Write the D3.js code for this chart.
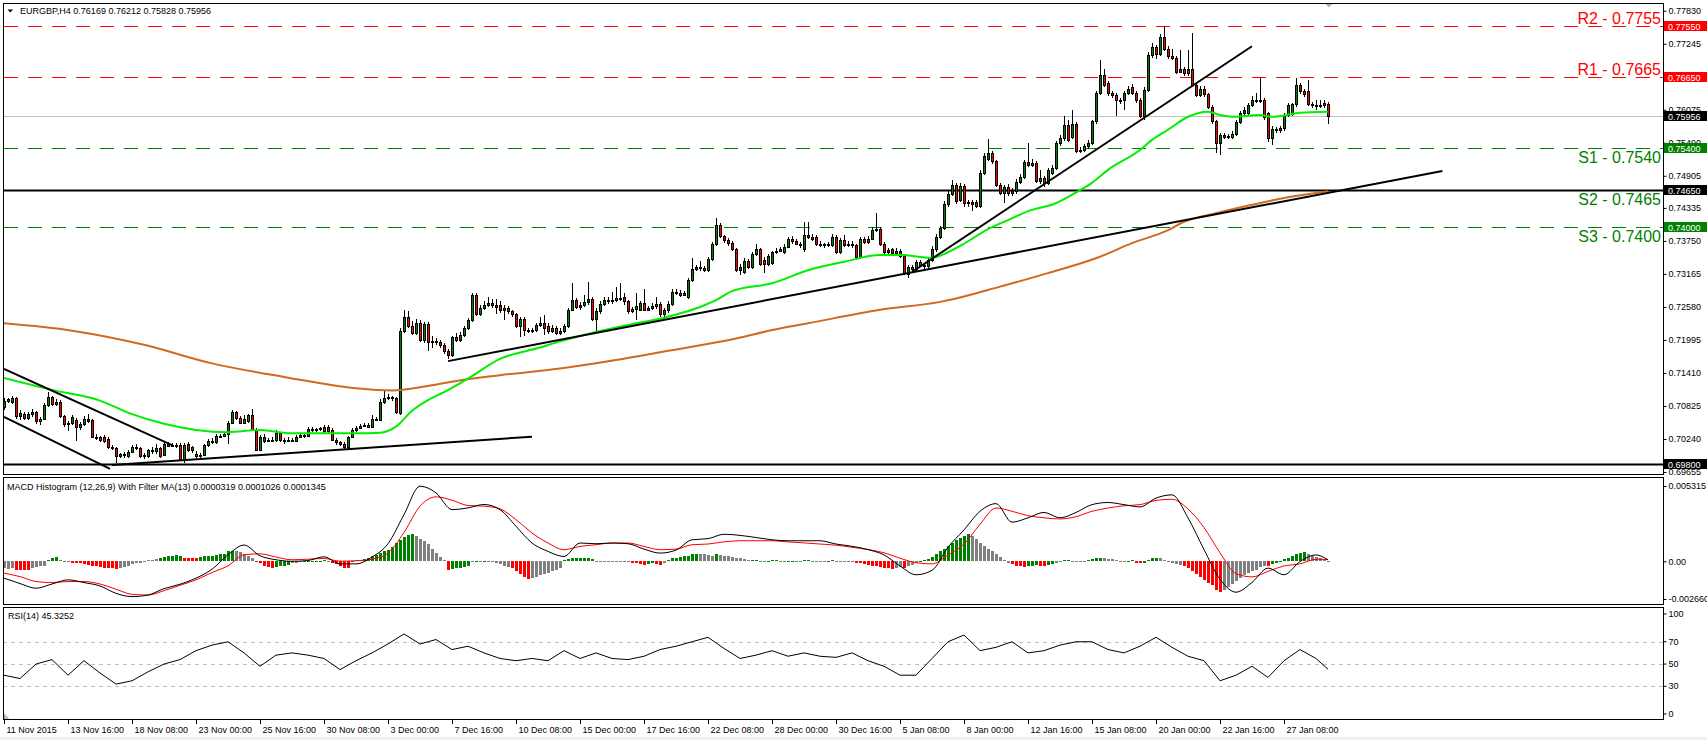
<!DOCTYPE html>
<html>
<head>
<meta charset="utf-8">
<script src="https://cdn.jsdelivr.net/npm/d3@7/dist/d3.min.js"></script>
<style>
  body { margin: 0; background: #fff; }
  svg { display: block; }
</style>
</head>
<body>
<div id="chart"></div>
<script>
// EURGBP H4, one entry per bar, 11 Nov 2015 00:00 onwards
const opens = [
  0.7080,0.7092,0.7090,0.7097,0.7065,0.7068,0.7061,0.7068,0.7072,0.7055,
  0.7060,0.7084,0.7098,0.7086,0.7090,0.7064,0.7050,0.7052,0.7058,0.7045,
  0.7050,0.7060,0.7057,0.7028,0.7027,0.7028,0.7024,0.7010,0.7008,0.6993,
  0.6997,0.6994,0.7001,0.7010,0.7008,0.6993,0.6994,0.7004,0.7002,0.7008,
  0.6996,0.7015,0.7012,0.7014,0.7014,0.6988,0.7015,0.7004,0.6998,0.6994,
  0.6996,0.7013,0.7021,0.7019,0.7030,0.7029,0.7032,0.7052,0.7071,0.7062,
  0.7053,0.7056,0.7066,0.7040,0.7005,0.7020,0.7023,0.7022,0.7022,0.7034,
  0.7022,0.7020,0.7023,0.7021,0.7028,0.7031,0.7029,0.7041,0.7040,0.7041,
  0.7045,0.7038,0.7040,0.7023,0.7018,0.7016,0.7010,0.7027,0.7040,0.7044,
  0.7047,0.7049,0.7046,0.7060,0.7058,0.7090,0.7097,0.7099,0.7096,0.7070,
  0.7215,0.7240,0.7224,0.7212,0.7230,0.7200,0.7228,0.7196,0.7197,0.7196,
  0.7191,0.7180,0.7172,0.7204,0.7200,0.7208,0.7220,0.7235,0.7280,0.7246,
  0.7256,0.7262,0.7265,0.7262,0.7262,0.7252,0.7256,0.7250,0.7245,0.7224,
  0.7236,0.7218,0.7215,0.7217,0.7226,0.7230,0.7225,0.7215,0.7221,0.7212,
  0.7216,0.7225,0.7253,0.7271,0.7258,0.7262,0.7266,0.7272,0.7237,0.7250,
  0.7264,0.7270,0.7268,0.7270,0.7274,0.7276,0.7268,0.7250,0.7254,0.7252,
  0.7265,0.7253,0.7256,0.7260,0.7263,0.7246,0.7252,0.7264,0.7285,0.7283,
  0.7280,0.7275,0.7306,0.7326,0.7329,0.7327,0.7324,0.7343,0.7370,0.7404,
  0.7383,0.7377,0.7371,0.7360,0.7323,0.7320,0.7340,0.7328,0.7352,0.7360,
  0.7342,0.7334,0.7336,0.7355,0.7358,0.7355,0.7365,0.7379,0.7374,0.7370,
  0.7360,0.7385,0.7382,0.7382,0.7370,0.7369,0.7367,0.7368,0.7382,0.7356,
  0.7377,0.7368,0.7370,0.7367,0.7347,0.7378,0.7373,0.7379,0.7394,0.7396,
  0.7370,0.7355,0.7360,0.7354,0.7358,0.7348,0.7316,0.7328,0.7326,0.7338,
  0.7333,0.7330,0.7342,0.7360,0.7382,0.7398,0.7440,0.7459,0.7474,0.7448,
  0.7473,0.7442,0.7444,0.7444,0.7437,0.7496,0.7520,0.7531,0.7516,0.7474,
  0.7460,0.7471,0.7460,0.7463,0.7480,0.7489,0.7514,0.7510,0.7513,0.7481,
  0.7487,0.7477,0.7496,0.7504,0.7548,0.7557,0.7580,0.7560,0.7583,0.7535,
  0.7537,0.7543,0.7549,0.7587,0.7637,0.7669,0.7654,0.7637,0.7634,0.7625,
  0.7624,0.7637,0.7648,0.7637,0.7625,0.7596,0.7643,0.7705,0.7719,0.7707,
  0.7737,0.7716,0.7702,0.7700,0.7675,0.7680,0.7672,0.7679,0.7651,0.7634,
  0.7645,0.7635,0.7612,0.7587,0.7548,0.7563,0.7559,0.7559,0.7565,0.7586,
  0.7601,0.7601,0.7616,0.7625,0.7624,0.7625,0.7601,0.7557,0.7574,0.7571,
  0.7575,0.7598,0.7600,0.7617,0.7651,0.7640,0.7640,0.7618,0.7615,0.7616,
  0.7619,0.76169
]
const highs = [
  0.7096,0.7097,0.7100,0.7099,0.7076,0.7072,0.7072,0.7078,0.7074,0.7063,
  0.7087,0.7108,0.7101,0.7094,0.7093,0.7066,0.7056,0.7066,0.7062,0.7054,
  0.7064,0.7068,0.7059,0.7032,0.7030,0.7031,0.7027,0.7014,0.7010,0.7000,
  0.7001,0.7004,0.7013,0.7016,0.7010,0.6999,0.7006,0.7010,0.7015,0.7010,
  0.7019,0.7018,0.7017,0.7017,0.7017,0.7017,0.7018,0.7012,0.7002,0.6999,
  0.7016,0.7024,0.7026,0.7033,0.7033,0.7036,0.7055,0.7076,0.7074,0.7065,
  0.7066,0.7068,0.7078,0.7043,0.7031,0.7032,0.7026,0.7027,0.7040,0.7037,
  0.7026,0.7027,0.7026,0.7031,0.7035,0.7034,0.7046,0.7045,0.7044,0.7046,
  0.7048,0.7049,0.7043,0.7025,0.7020,0.7018,0.7029,0.7043,0.7047,0.7051,
  0.7052,0.7052,0.7066,0.7063,0.7094,0.7110,0.7103,0.7101,0.7099,0.7220,
  0.7253,0.7250,0.7233,0.7236,0.7234,0.7232,0.7231,0.7206,0.7203,0.7200,
  0.7194,0.7183,0.7207,0.7212,0.7214,0.7224,0.7239,0.7283,0.7283,0.7262,
  0.7268,0.7275,0.7272,0.7272,0.7268,0.7262,0.7260,0.7253,0.7248,0.7240,
  0.7240,0.7221,0.7220,0.7230,0.7240,0.7243,0.7230,0.7226,0.7224,0.7220,
  0.7228,0.7257,0.7300,0.7273,0.7267,0.7280,0.7302,0.7275,0.7256,0.7268,
  0.7275,0.7276,0.7285,0.7293,0.7300,0.7282,0.7271,0.7258,0.7282,0.7268,
  0.7290,0.7260,0.7265,0.7276,0.7266,0.7256,0.7268,0.7289,0.7290,0.7288,
  0.7287,0.7310,0.7345,0.7332,0.7340,0.7331,0.7347,0.7373,0.7415,0.7407,
  0.7386,0.7380,0.7374,0.7363,0.7334,0.7344,0.7343,0.7356,0.7370,0.7363,
  0.7346,0.7352,0.7358,0.7362,0.7364,0.7370,0.7382,0.7383,0.7378,0.7373,
  0.7408,0.7408,0.7387,0.7386,0.7374,0.7372,0.7373,0.7387,0.7386,0.7380,
  0.7386,0.7375,0.7374,0.7370,0.7382,0.7382,0.7383,0.7399,0.7424,0.7400,
  0.7373,0.7363,0.7363,0.7362,0.7361,0.7351,0.7332,0.7332,0.7342,0.7342,
  0.7336,0.7346,0.7366,0.7388,0.7402,0.7445,0.7466,0.7483,0.7477,0.7478,
  0.7476,0.7448,0.7448,0.7448,0.7500,0.7530,0.7555,0.7534,0.7519,0.7477,
  0.7474,0.7475,0.7468,0.7484,0.7494,0.7518,0.7548,0.7520,0.7516,0.7500,
  0.7490,0.7505,0.7509,0.7552,0.7562,0.7596,0.7590,0.7607,0.7586,0.7542,
  0.7547,0.7553,0.7590,0.7640,0.7696,0.7680,0.7658,0.7640,0.7637,0.7629,
  0.7640,0.7650,0.7653,0.7640,0.7628,0.7647,0.7710,0.7725,0.7722,0.7742,
  0.7755,0.7720,0.7716,0.7703,0.7713,0.7684,0.7713,0.7743,0.7654,0.7650,
  0.7649,0.7638,0.7615,0.7590,0.7567,0.7567,0.7565,0.7569,0.7589,0.7606,
  0.7613,0.7620,0.7632,0.7637,0.7663,0.7628,0.7604,0.7578,0.7577,0.7579,
  0.7602,0.7620,0.7620,0.7663,0.7655,0.7644,0.7660,0.7622,0.7625,0.7625,
  0.7624,0.76212
]
const lows = [
  0.7075,0.7088,0.7086,0.7060,0.7058,0.7058,0.7058,0.7063,0.7050,0.7048,
  0.7058,0.7080,0.7083,0.7083,0.7062,0.7046,0.7039,0.7048,0.7020,0.7040,
  0.7047,0.7052,0.7025,0.7022,0.7018,0.7017,0.7007,0.7004,0.6981,0.6990,
  0.6991,0.6991,0.6999,0.7005,0.6990,0.6989,0.6991,0.6998,0.6998,0.6990,
  0.6993,0.7009,0.7011,0.7008,0.6985,0.6982,0.7001,0.7000,0.6991,0.6990,
  0.6993,0.7010,0.7016,0.7016,0.7026,0.7027,0.7015,0.7050,0.7058,0.7050,
  0.7050,0.7053,0.7038,0.7002,0.7002,0.7017,0.7018,0.7018,0.7019,0.7019,
  0.7016,0.7018,0.7018,0.7019,0.7026,0.7025,0.7027,0.7037,0.7037,0.7038,
  0.7035,0.7035,0.7020,0.7014,0.7012,0.7007,0.7006,0.7025,0.7037,0.7041,
  0.7045,0.7043,0.7044,0.7055,0.7055,0.7086,0.7093,0.7092,0.7068,0.7066,
  0.7212,0.7220,0.7208,0.7209,0.7196,0.7194,0.7180,0.7185,0.7190,0.7186,
  0.7175,0.7166,0.7169,0.7196,0.7196,0.7205,0.7217,0.7232,0.7242,0.7242,
  0.7252,0.7258,0.7256,0.7245,0.7248,0.7235,0.7245,0.7240,0.7220,0.7205,
  0.7207,0.7212,0.7212,0.7214,0.7222,0.7208,0.7210,0.7212,0.7208,0.7208,
  0.7212,0.7221,0.7250,0.7254,0.7253,0.7258,0.7262,0.7233,0.7213,0.7246,
  0.7260,0.7263,0.7264,0.7266,0.7268,0.7262,0.7246,0.7248,0.7234,0.7250,
  0.7250,0.7250,0.7252,0.7255,0.7240,0.7234,0.7248,0.7260,0.7279,0.7275,
  0.7277,0.7272,0.7302,0.7322,0.7322,0.7320,0.7320,0.7340,0.7366,0.7380,
  0.7372,0.7366,0.7357,0.7320,0.7315,0.7316,0.7325,0.7325,0.7348,0.7330,
  0.7318,0.7330,0.7333,0.7352,0.7355,0.7352,0.7362,0.7370,0.7367,0.7363,
  0.7355,0.7378,0.7374,0.7366,0.7364,0.7363,0.7364,0.7364,0.7352,0.7352,
  0.7364,0.7364,0.7362,0.7342,0.7343,0.7370,0.7370,0.7376,0.7390,0.7366,
  0.7350,0.7352,0.7350,0.7350,0.7344,0.7314,0.7310,0.7322,0.7322,0.7328,
  0.7324,0.7326,0.7338,0.7356,0.7378,0.7395,0.7436,0.7455,0.7441,0.7444,
  0.7436,0.7436,0.7428,0.7433,0.7433,0.7492,0.7516,0.7512,0.7470,0.7456,
  0.7442,0.7455,0.7455,0.7458,0.7476,0.7485,0.7506,0.7506,0.7477,0.7476,
  0.7470,0.7474,0.7492,0.7500,0.7544,0.7552,0.7550,0.7556,0.7530,0.7530,
  0.7532,0.7538,0.7545,0.7583,0.7633,0.7647,0.7632,0.7629,0.7596,0.7618,
  0.7607,0.7633,0.7633,0.7620,0.7592,0.7590,0.7639,0.7700,0.7698,0.7703,
  0.7712,0.7698,0.7696,0.7670,0.7672,0.7668,0.7668,0.7647,0.7630,0.7630,
  0.7630,0.7608,0.7583,0.7530,0.7527,0.7555,0.7555,0.7555,0.7561,0.7583,
  0.7597,0.7597,0.7612,0.7620,0.7620,0.7590,0.7550,0.7545,0.7567,0.7566,
  0.7570,0.7594,0.7596,0.7612,0.7636,0.7630,0.7614,0.7610,0.7607,0.7610,
  0.7610,0.75828
]
const closes = [
  0.7092,0.7094,0.7097,0.7065,0.7070,0.7061,0.7068,0.7072,0.7055,0.7060,
  0.7084,0.7098,0.7086,0.7090,0.7064,0.7050,0.7052,0.7063,0.7045,0.7050,
  0.7060,0.7055,0.7028,0.7027,0.7022,0.7020,0.7010,0.7008,0.6993,0.6997,
  0.6995,0.7001,0.7010,0.7008,0.6993,0.6996,0.7004,0.7002,0.7008,0.6994,
  0.7015,0.7012,0.7014,0.7011,0.6988,0.7014,0.7004,0.7009,0.6994,0.6996,
  0.7013,0.7021,0.7019,0.7030,0.7029,0.7032,0.7052,0.7071,0.7062,0.7053,
  0.7060,0.7066,0.7040,0.7005,0.7028,0.7028,0.7022,0.7023,0.7034,0.7022,
  0.7020,0.7023,0.7021,0.7028,0.7031,0.7029,0.7041,0.7040,0.7041,0.7043,
  0.7038,0.7046,0.7023,0.7018,0.7015,0.7010,0.7027,0.7040,0.7044,0.7047,
  0.7049,0.7046,0.7060,0.7058,0.7090,0.7097,0.7099,0.7096,0.7071,0.7215,
  0.7240,0.7224,0.7212,0.7230,0.7200,0.7228,0.7196,0.7197,0.7196,0.7191,
  0.7180,0.7172,0.7204,0.7200,0.7208,0.7220,0.7235,0.7280,0.7246,0.7256,
  0.7262,0.7265,0.7262,0.7258,0.7252,0.7256,0.7250,0.7245,0.7224,0.7236,
  0.7218,0.7215,0.7217,0.7226,0.7229,0.7221,0.7215,0.7221,0.7212,0.7216,
  0.7225,0.7253,0.7271,0.7258,0.7262,0.7266,0.7272,0.7237,0.7250,0.7264,
  0.7270,0.7268,0.7270,0.7274,0.7272,0.7268,0.7250,0.7254,0.7259,0.7265,
  0.7253,0.7256,0.7260,0.7263,0.7246,0.7252,0.7264,0.7285,0.7283,0.7280,
  0.7282,0.7306,0.7326,0.7329,0.7327,0.7324,0.7343,0.7370,0.7404,0.7383,
  0.7377,0.7371,0.7360,0.7323,0.7328,0.7340,0.7328,0.7352,0.7360,0.7334,
  0.7334,0.7348,0.7355,0.7358,0.7360,0.7365,0.7379,0.7374,0.7370,0.7367,
  0.7385,0.7382,0.7379,0.7370,0.7369,0.7367,0.7369,0.7382,0.7356,0.7377,
  0.7368,0.7370,0.7367,0.7347,0.7378,0.7373,0.7379,0.7394,0.7396,0.7370,
  0.7355,0.7359,0.7354,0.7358,0.7348,0.7318,0.7328,0.7326,0.7338,0.7333,
  0.7330,0.7342,0.7360,0.7382,0.7398,0.7440,0.7459,0.7474,0.7445,0.7473,
  0.7442,0.7444,0.7440,0.7437,0.7496,0.7526,0.7531,0.7516,0.7474,0.7460,
  0.7471,0.7460,0.7463,0.7480,0.7489,0.7514,0.7510,0.7513,0.7481,0.7487,
  0.7477,0.7501,0.7504,0.7548,0.7557,0.7580,0.7554,0.7583,0.7535,0.7537,
  0.7543,0.7549,0.7587,0.7637,0.7669,0.7651,0.7637,0.7634,0.7625,0.7624,
  0.7637,0.7645,0.7637,0.7625,0.7596,0.7643,0.7705,0.7719,0.7707,0.7737,
  0.7716,0.7702,0.7700,0.7675,0.7680,0.7672,0.7679,0.7651,0.7634,0.7645,
  0.7635,0.7612,0.7587,0.7548,0.7563,0.7559,0.7561,0.7565,0.7586,0.7601,
  0.7607,0.7616,0.7625,0.7624,0.7625,0.7595,0.7557,0.7574,0.7571,0.7575,
  0.7598,0.7616,0.7617,0.7651,0.7640,0.7636,0.7618,0.7615,0.7616,0.7615,
  0.7615,0.75956
]

// moving averages at these bars
const fastMaBars = [0,8,12,24,32,40,48,56,64,72,80,88,94,98,102,106,110,116,124,134,139,147,156,165,174,178,182,192,201,210,219,224,232,236,240,246,251,257,262,269,272,276,284,287,291,296,301,304,307,314,317,324,331]
const fastMa = [0.7132,0.7118,0.7111,0.7092,0.7068,0.7051,0.7040,0.7036,0.7040,0.7034,0.7034,0.7034,0.7035,0.7046,0.7074,0.7093,0.7107,0.7131,0.7166,0.7186,0.7197,0.7212,0.7226,0.7239,0.7258,0.7270,0.7286,0.7300,0.7323,0.7338,0.7350,0.7350,0.7345,0.7355,0.7370,0.7396,0.7412,0.7430,0.7439,0.7465,0.7478,0.7501,0.7536,0.7554,0.7572,0.7595,0.7604,0.7598,0.7595,0.7598,0.7595,0.7602,0.7604]
const slowMaBars = [0,17,35,52,70,88,97,106,115,124,139,153,165,183,192,201,219,234,238,249,261,274,282,291,295,303,312,320,331]
const slowMa = [0.7229,0.7216,0.7191,0.7158,0.7134,0.7114,0.7110,0.7118,0.7129,0.7137,0.7149,0.7164,0.7179,0.7202,0.7217,0.7229,0.7253,0.7267,0.7273,0.7294,0.7318,0.7347,0.7371,0.7394,0.7409,0.7424,0.7439,0.7451,0.7463]

// drawn objects: [bar, price, bar, price]
const trendLines = [
  [0, 0.7148, 42, 0.7013],
  [0, 0.7063, 26.5, 0.6971],
  [27, 0.6978, 132, 0.7028],
  [111, 0.7162, 359.6, 0.7499],
  [227, 0.7320, 312, 0.7720]
]
const levelValues = [0.7755, 0.7665, 0.7540, 0.7465, 0.7400, 0.6980]
const levelKinds = ['res', 'res', 'sup', 'solid', 'sup', 'solid']
const levelLabels = ['R2 - 0.7755', 'R1 - 0.7665', 'S1 - 0.7540', 'S2 - 0.7465', 'S3 - 0.7400', '']
const lastPrice = 0.75956
const tagValues = [0.7755, 0.7665, 0.75956, 0.7540, 0.7465, 0.7400, 0.6980]
const tagKinds = ['res', 'res', 'last', 'sup', 'solid', 'sup', 'solid']
const priceTicks = [0.7783, 0.77245, 0.7666, 0.76075, 0.7549, 0.74905, 0.74335, 0.7375, 0.73165, 0.7258, 0.71995, 0.7141, 0.70825, 0.7024, 0.69655]

// MACD histogram per bar (units of 0.0001) and its colour state
const histE4 = [
  -5,-5.4,-5,-6,-6,-6.2,-6,-4.5,-4,-3.5,
  -3,1,2,3,1,0.5,0.3,-1,-1.5,-1,
  -2,-2.5,-3,-3.5,-4,-4.5,-5,-5,-5.2,-5,
  -4,-3,-2,-1.5,-1,0.5,1,1,1.5,2.5,
  3,3.5,4,4.5,4,2.5,2,2.5,2,3,
  3.5,4,4,4.5,5,5.5,7,7.5,7.2,6.5,
  5.5,4,2.5,-0.5,-1.5,-3,-4,-4.5,-4,-3.5,
  -3,-2.5,-1.5,-1,-0.5,0.3,0.5,0.3,0.4,0.5,
  0.6,0.3,-1,-2,-3.5,-4.5,-5,0.5,1,1,
  1.5,2.5,3.5,4.5,6,7,8,10,13,15,
  17,18.5,19,18,16,14,12,9,6,3,
  1,-6,-5.5,-5,-4.5,-4,-3.5,0.5,0.5,0.3,
  0.3,0.5,0.3,-1,-2,-3,-4,-5,-7,-9,
  -11,-12.5,-12,-11,-10,-9,-8,-7,-6,-5,
  1,1.5,2,2,2.5,2,2,1.5,0.3,0.3,
  0.3,0.3,0.3,0.3,0.3,0.3,0.2,-1,-1.5,-2,
  -2.5,-2,-1.5,-2,-2.5,-1.5,1,2,2.5,3,
  3.5,4,5,5.5,5,5,4.5,4,5,4.5,
  4,3.5,3,2.5,2,1.5,1,1,1,0.5,
  0.3,0.5,1,1,0.5,0.3,0.5,0.5,0.3,0.3,
  1,1,0.5,0.3,0.3,0.3,0.5,1,0.5,0.5,
  0.3,0.3,0.3,-1,-1.5,-2,-2.5,-3,-3.5,-4,
  -4.5,-5,-5.5,-5,-4,-5,-3.5,-2.5,-1.5,0.5,
  1,1.5,3,5,7,9,11,13,15,16.5,
  18,19,18,16,13,11,9,7,5,3,
  1,-1,-2,-3,-3.5,-4,-3.5,-3,-2.5,-3,
  -3.5,-2.5,-2,-1,0.5,1,1,0.5,0.3,-0.5,
  0.3,1,1.5,2,2.5,2,1.5,1.5,1,0.5,
  0.5,0.5,1,-1,-1.5,-1,1,2,2.5,2,
  1,-0.5,-1,-2,-2.5,-3.5,-5,-7,-9,-11,
  -13,-15,-17,-20,-22,-20,-18,-16,-14,-12,
  -10,-8,-7,-6,-4,-3,-3.5,-2,-1,0.5,
  1.5,2.5,3.5,5,6,6.5,5,4,3,2,
  1,0.319
]
const histState = (
  'sssrrrrsss' + 'sgggsssrrr' + 'rrrrrrrrrs' + 'sssssssssg' + 'gggggrrrrg' +
  'ggggggggss' + 'sssrrrrrgg' + 'ggsssggggg' + 'gsrrrrrggg' + 'gggggggggg' +
  'gggsssssss' + 'srgggggsgs' + 'gssssssrrr' + 'rrssssssss' + 'ggggggggss' +
  'sssssssrrr' + 'rggrrsgggg' + 'ggggssssgs' + 'sssssssggs' + 'sgggssggss' +
  'ggssssggss' + 'sssrrrrrrr' + 'rrrssrsssg' + 'gggggggggg' + 'ggssssssss' +
  'ssrrrrgggr' + 'rggssggsss' + 'sggggsssss' + 'sggrrggggs' + 'sssssrrrrr' +
  'rrrrrsssss' + 'ssssssrggg' + 'ggggggssss' + 'ss').split('')

// MACD lines and RSI every 4th bar
const sampleBars = [0,4,8,12,16,20,24,28,32,36,40,44,48,52,56,60,64,68,72,76,80,84,88,92,96,100,104,108,112,116,120,124,128,132,136,140,144,148,152,156,160,164,168,172,176,180,184,188,192,196,200,204,208,212,216,220,224,228,232,236,240,244,248,252,256,260,264,268,272,276,280,284,288,292,296,300,304,308,312,316,320,324,328,331]
const macdMain = [
  -0.00119,-0.00157,-0.00190,-0.00160,-0.00131,-0.00150,-0.00174,-0.00226,-0.00249,-0.00238,
  -0.00193,-0.00162,-0.00119,-0.00056,0.00046,0.00115,0.00039,0.00011,0.00000,0.00006,
  0.00032,-0.00018,-0.00018,0.00030,0.00124,0.00330,0.00530,0.00483,0.00365,0.00377,
  0.00401,0.00365,0.00247,0.00129,0.00070,0.00034,0.00129,0.00124,0.00129,0.00124,
  0.00086,0.00058,0.00079,0.00152,0.00160,0.00191,0.00183,0.00168,0.00152,0.00145,
  0.00145,0.00145,0.00122,0.00106,0.00083,0.00045,-0.00033,-0.00095,-0.00064,0.00099,
  0.00222,0.00353,0.00407,0.00276,0.00307,0.00345,0.00307,0.00345,0.00400,0.00415,
  0.00400,0.00384,0.00446,0.00469,0.00307,0.00083,-0.00126,-0.00218,-0.00149,-0.00048,
  -0.00095,-0.00002,0.00045,0.00010
]
const macdSignal = [
  -0.00084,-0.00108,-0.00143,-0.00150,-0.00143,-0.00143,-0.00160,-0.00197,-0.00233,-0.00238,
  -0.00207,-0.00169,-0.00131,-0.00079,-0.00032,0.00046,0.00053,0.00030,0.00011,0.00015,
  0.00020,0.00001,0.00004,0.00015,0.00058,0.00204,0.00389,0.00455,0.00431,0.00394,
  0.00389,0.00370,0.00294,0.00200,0.00129,0.00082,0.00105,0.00117,0.00129,0.00129,
  0.00105,0.00082,0.00086,0.00117,0.00122,0.00137,0.00145,0.00145,0.00145,0.00137,
  0.00130,0.00122,0.00114,0.00099,0.00083,0.00060,0.00022,-0.00010,-0.00018,0.00045,
  0.00122,0.00261,0.00376,0.00353,0.00322,0.00307,0.00299,0.00315,0.00353,0.00376,
  0.00392,0.00400,0.00430,0.00438,0.00369,0.00238,0.00060,-0.00087,-0.00110,-0.00071,
  -0.00033,-0.00018,0.00014,0.00013
]
const rsi = [
  40,37,50,54,40,53,42,32,35,43,
  50,54,62,67,70,60,48,58,60,58,
  55,45,53,60,68,77,68,72,63,66,
  60,55,53,55,53,62,55,60,55,54,
  57,63,66,70,74,64,55,58,62,57,
  60,57,56,60,53,48,40,40,55,70,
  76,62,65,70,60,62,67,70,70,63,
  60,66,74,65,57,53,35,40,48,38,
  53,63,55,45.33
]
const macdTicks = [0.005315, 0, -0.00266]
const macdTickLabels = ['0.005315', '0.00', '-0.002660']
const rsiLevels = [70, 50, 30]
const rsiTicks = [100, 70, 50, 30, 0]

const dateTickBars = [0,16,32,48,64,80,96,112,128,144,160,176,192,208,224,240,256,272,288,304,320]
const dateLabels = ['11 Nov 2015','13 Nov 16:00','18 Nov 08:00','23 Nov 00:00','25 Nov 16:00','30 Nov 08:00',
  '3 Dec 00:00','7 Dec 16:00','10 Dec 08:00','15 Dec 00:00','17 Dec 16:00','22 Dec 08:00','28 Dec 00:00',
  '30 Dec 16:00','5 Jan 08:00','8 Jan 00:00','12 Jan 16:00','15 Jan 08:00','20 Jan 00:00','22 Jan 16:00','27 Jan 08:00']

// ---- layout
const width = 1707, height = 740
const left = 3, right = 1663
const mainTop = 3, mainBottom = 475
const macdTop = 477, macdBottom = 605
const rsiTop = 607, rsiBottom = 720
const font = '"Liberation Sans", Arial, sans-serif'

const colors = { res: '#ff0000', sup: '#008000', solid: '#000', last: '#000' }
const histColors = { g: '#008000', r: '#ff0000', s: '#808080' }

const x = d3.scaleLinear().domain([0, 331]).range([4, 1328])
const y = d3.scaleLinear().domain([0.69655, 0.7783]).range([472, 10.7])
const yMacd = d3.scaleLinear().domain([-0.00266, 0.005315]).range([599, 486])
const yRsi = d3.scaleLinear().domain([0, 100]).range([719.8, 608.3])

const svg = d3.select('#chart').append('svg')
  .attr('width', width)
  .attr('height', height)
  .style('font-family', font)

svg.append('rect').attr('width', width).attr('height', height).attr('fill', '#fff')
svg.append('rect').attr('y', 737).attr('width', width).attr('height', 3).attr('fill', '#f0f0f0')

const defs = svg.append('defs')
let addClip = (id, top, bottom) => {
  defs.append('clipPath').attr('id', id)
    .append('rect')
    .attr('x', left + 1).attr('y', top + 1)
    .attr('width', right - left - 1).attr('height', bottom - top - 1)
}
addClip('clip-main', mainTop, mainBottom)
addClip('clip-macd', macdTop, macdBottom)
addClip('clip-rsi', rsiTop, rsiBottom)

// ---- main panel
const main = svg.append('g').attr('clip-path', 'url(#clip-main)')

main.append('line')
  .attr('x1', left).attr('x2', right)
  .attr('y1', Math.round(y(lastPrice)) + 0.5).attr('y2', Math.round(y(lastPrice)) + 0.5)
  .attr('stroke', '#c0c0c0')

main.selectAll('line.level')
  .data(levelValues)
  .enter()
  .append('line')
  .attr('class', 'level')
  .attr('x1', 4).attr('x2', right)
  .attr('y1', d => Math.round(y(d)) + 0.5)
  .attr('y2', d => Math.round(y(d)) + 0.5)
  .attr('stroke', (d, i) => colors[levelKinds[i]])
  .attr('stroke-width', (d, i) => levelKinds[i] === 'solid' ? 2 : 1)
  .attr('stroke-dasharray', (d, i) => levelKinds[i] === 'solid' ? null : '14,10')

// candles
const bars = d3.range(closes.length)
const candles = main.append('g').attr('shape-rendering', 'crispEdges')
candles.selectAll('line')
  .data(bars)
  .enter()
  .append('line')
  .attr('x1', i => x(i) + 0.5)
  .attr('x2', i => x(i) + 0.5)
  .attr('y1', i => y(highs[i]))
  .attr('y2', i => y(lows[i]))
  .attr('stroke', '#000')
candles.selectAll('rect')
  .data(bars)
  .enter()
  .append('rect')
  .attr('x', i => x(i) - 0.5)
  .attr('width', 2)
  .attr('y', i => Math.round(y(Math.max(opens[i], closes[i]))) + 0.5)
  .attr('height', i => Math.max(1, Math.round(y(Math.min(opens[i], closes[i]))) - Math.round(y(Math.max(opens[i], closes[i])))))
  .attr('fill', i => closes[i] >= opens[i] ? '#008000' : '#ff0000')
  .attr('stroke', '#000')

// moving averages
const maLine = d3.line().x(d => x(d[0])).y(d => y(d[1])).curve(d3.curveMonotoneX)
main.append('path')
  .attr('d', maLine(slowMaBars.map((b, i) => [b, slowMa[i]])))
  .attr('fill', 'none').attr('stroke', '#d2691e').attr('stroke-width', 2)
main.append('path')
  .attr('d', maLine(fastMaBars.map((b, i) => [b, fastMa[i]])))
  .attr('fill', 'none').attr('stroke', '#00ee00').attr('stroke-width', 2)

// trend lines
main.selectAll('line.trend')
  .data(trendLines)
  .enter()
  .append('line')
  .attr('class', 'trend')
  .attr('x1', d => x(d[0])).attr('y1', d => y(d[1]))
  .attr('x2', d => x(d[2])).attr('y2', d => y(d[3]))
  .attr('stroke', '#000').attr('stroke-width', 2)

// level captions
main.selectAll('text.level')
  .data(levelValues)
  .enter()
  .append('text')
  .attr('class', 'level')
  .attr('x', 1661)
  .attr('y', (d, i) => levelKinds[i] === 'res' ? y(d) - 2.5 : y(d) + 15)
  .attr('text-anchor', 'end')
  .attr('font-size', 16)
  .attr('fill', (d, i) => levelKinds[i] === 'res' ? '#ff0000' : '#008000')
  .text((d, i) => levelLabels[i])

// chart shift marker
svg.append('path').attr('d', 'M1325,3.5L1333,3.5L1329,7.5Z').attr('fill', '#b4b4b4')

// header
svg.append('path').attr('d', 'M7.5,9.5L13,9.5L10.25,12.5Z').attr('fill', '#000')
svg.append('text').attr('x', 20).attr('y', 14).attr('font-size', 9)
  .text('EURGBP,H4  0.76169 0.76212 0.75828 0.75956')

// ---- MACD panel
const macd = svg.append('g').attr('clip-path', 'url(#clip-macd)')
macd.append('g').attr('shape-rendering', 'crispEdges')
  .selectAll('rect')
  .data(bars)
  .enter()
  .append('rect')
  .attr('x', i => x(i) - 1)
  .attr('width', 3)
  .attr('y', i => Math.min(yMacd(0), yMacd(histE4[i] * 1e-4)))
  .attr('height', i => Math.max(1, Math.abs(yMacd(histE4[i] * 1e-4) - yMacd(0))))
  .attr('fill', i => histColors[histState[i]])

const macdLine = d3.line().x(d => x(d[0])).y(d => yMacd(d[1])).curve(d3.curveMonotoneX)
macd.append('path')
  .attr('d', macdLine(sampleBars.map((b, i) => [b, macdSignal[i]])))
  .attr('fill', 'none').attr('stroke', '#ff0000').attr('stroke-width', 1)
macd.append('path')
  .attr('d', macdLine(sampleBars.map((b, i) => [b, macdMain[i]])))
  .attr('fill', 'none').attr('stroke', '#000').attr('stroke-width', 1)

svg.append('text').attr('x', 7).attr('y', 489.5).attr('font-size', 9)
  .text('MACD Histogram (12,26,9) With Filter MA(13) 0.0000319 0.0001026 0.0001345')

// ---- RSI panel
const rsiG = svg.append('g').attr('clip-path', 'url(#clip-rsi)')
rsiG.selectAll('line')
  .data(rsiLevels)
  .enter()
  .append('line')
  .attr('x1', left).attr('x2', right)
  .attr('y1', d => Math.round(yRsi(d)) + 0.5)
  .attr('y2', d => Math.round(yRsi(d)) + 0.5)
  .attr('stroke', '#c0c0c0')
  .attr('stroke-dasharray', '4,4')
rsiG.append('path')
  .attr('d', d3.line().x(d => x(d[0])).y(d => yRsi(d[1]))(sampleBars.map((b, i) => [b, rsi[i]])))
  .attr('fill', 'none').attr('stroke', '#000').attr('stroke-width', 1)

svg.append('text').attr('x', 8).attr('y', 619).attr('font-size', 9).text('RSI(14) 45.3252')
svg.append('path').attr('d', 'M4,713L4,720L10,720Z').attr('fill', '#b4b4b4')

// ---- frames
const frames = [[mainTop, mainBottom], [macdTop, macdBottom], [rsiTop, rsiBottom]]
svg.selectAll('rect.frame')
  .data(frames)
  .enter()
  .append('rect')
  .attr('class', 'frame')
  .attr('x', left + 0.5).attr('y', d => d[0] + 0.5)
  .attr('width', right - left).attr('height', d => d[1] - d[0] - 1)
  .attr('fill', 'none').attr('stroke', '#000')

// ---- axes
let styleAxis = g => {
  g.select('.domain').remove()
  g.attr('font-family', font).attr('font-size', 9)
  g.selectAll('text').attr('fill', '#000')
}

svg.append('g')
  .attr('transform', `translate(${right + 0.5},0)`)
  .call(d3.axisRight(y).tickValues(priceTicks).tickFormat(d3.format('.5f')).tickSize(3).tickPadding(2))
  .call(styleAxis)

svg.append('g')
  .attr('transform', `translate(${right + 0.5},0)`)
  .call(d3.axisRight(yMacd).tickValues(macdTicks).tickFormat((d, i) => macdTickLabels[i]).tickSize(3).tickPadding(2))
  .call(styleAxis)

const rsiAxis = svg.append('g')
  .attr('transform', `translate(${right + 0.5},0)`)
  .call(d3.axisRight(yRsi).tickValues(rsiTicks).tickSize(3).tickPadding(2))
  .call(styleAxis)
rsiAxis.selectAll('.tick')
  .attr('transform', d => `translate(0,${Math.min(Math.max(yRsi(d), rsiTop + 7), rsiBottom - 6)})`)

// price tags on the axis
const tags = svg.append('g')
tags.selectAll('rect')
  .data(tagValues)
  .enter()
  .append('rect')
  .attr('x', right + 1)
  .attr('y', d => Math.round(y(d)) - 5)
  .attr('width', width - right - 1)
  .attr('height', 10)
  .attr('fill', (d, i) => colors[tagKinds[i]])
tags.selectAll('text')
  .data(tagValues)
  .enter()
  .append('text')
  .attr('x', right + 5)
  .attr('y', d => Math.round(y(d)) + 3.5)
  .attr('font-size', 9)
  .attr('fill', '#fff')
  .text(d => d3.format('.5f')(d))

// time axis
svg.append('g')
  .attr('transform', `translate(0,${rsiBottom})`)
  .call(d3.axisBottom(x).tickValues(dateTickBars).tickFormat((d, i) => dateLabels[i]).tickSize(4).tickPadding(3))
  .call(styleAxis)
  .selectAll('text')
  .attr('text-anchor', 'start')
  .attr('dx', 2)
</script>
</body>
</html>
